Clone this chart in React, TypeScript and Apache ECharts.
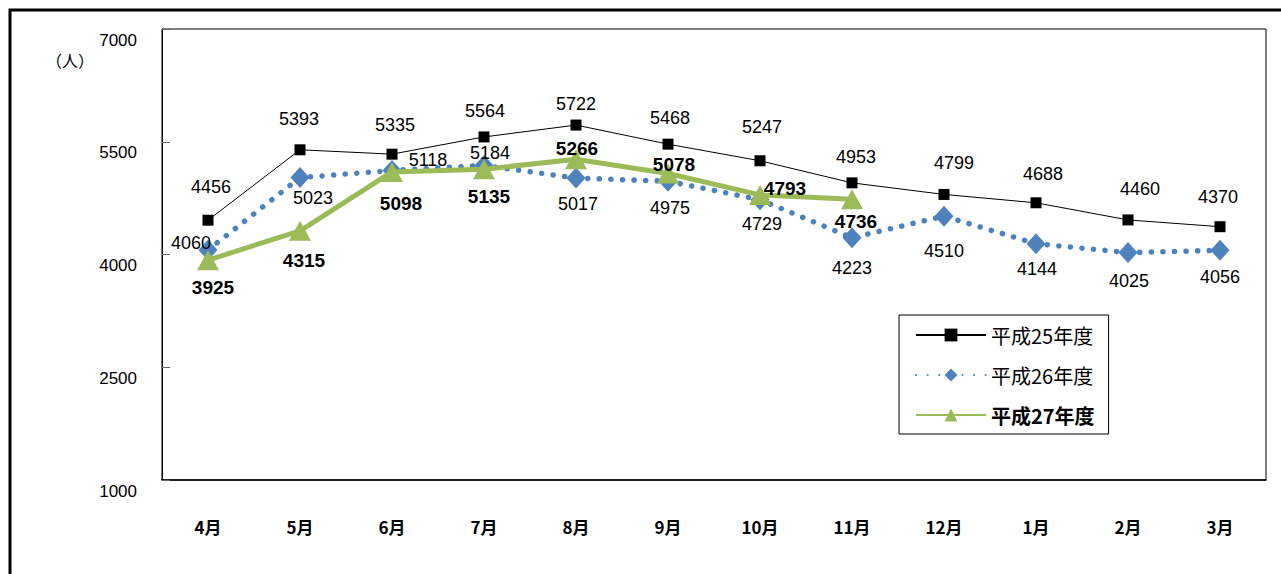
import React, { useEffect, useRef } from "react";
import * as echarts from "echarts";

const months = ["4月", "5月", "6月", "7月", "8月", "9月", "10月", "11月", "12月", "1月", "2月", "3月"];
const seriesNames = ["平成25年度", "平成26年度", "平成27年度"];
const h25 = [4456, 5393, 5335, 5564, 5722, 5468, 5247, 4953, 4799, 4688, 4460, 4370];
const h26 = [4060, 5023, 5118, 5184, 5017, 4975, 4729, 4223, 4510, 4144, 4025, 4056];
const h27: (number | null)[] = [3925, 4315, 5098, 5135, 5266, 5078, 4793, 4736, null, null, null, null];
const yMin = 1000;
const yMax = 7000;
const yInterval = 1500;
const unitLabel = "（人）";

// label placement (style only): offset of label centre from the marker centre
const off25 = [[3, -33], [-1, -31], [3, -29], [1, -26], [0, -21], [2, -26], [2, -34], [4, -26], [10, -31], [7, -29], [12, -31], [-2, -30]];
const off26 = [[-17, -7], [13, 20], [36, -10], [6, -13], [2, 26], [2, 27], [2, 24], [0, 30], [0, 35], [1, 25], [1, 28], [0, 27]];
const off27 = [[5, 27], [4, 30], [9, 32], [5, 27], [1, -11], [6, -9], [25, -6], [4, 22], [0, 0], [0, 0], [0, 0], [0, 0]];

const numFont = '"Liberation Sans", "Noto Sans CJK JP", sans-serif';
const cjkFont = '"Noto Sans CJK JP", "Liberation Sans", sans-serif';

function build(values: (number | null)[], offs: number[][]) {
  return values.map((v, i) =>
    v == null ? "-" : { value: v, label: { offset: offs[i] } }
  );
}

export default function App() {
  const ref = useRef<HTMLDivElement>(null);
  useEffect(() => {
    if (!ref.current) return;
    const chart = echarts.init(ref.current, null, { renderer: "svg" });
    chart.setOption({
      animation: false,
      backgroundColor: "#fff",
      grid: {
        left: 162,
        top: 29,
        right: 15,
        bottom: 94,
        show: true,
        borderColor: "#000",
        borderWidth: 1,
        containLabel: false,
      },
      legend: {
        orient: "vertical",
        left: 899,
        top: 315,
        padding: [10, 14, 9, 16],
        itemWidth: 70,
        itemHeight: 16,
        itemGap: 20,
        borderColor: "#000",
        borderWidth: 1,
        backgroundColor: "#fff",
        textStyle: { fontSize: 20, lineHeight: 20, color: "#000", fontFamily: cjkFont },
        data: [
          { name: seriesNames[0] },
          { name: seriesNames[1] },
          { name: seriesNames[2], textStyle: { fontWeight: "bold" } },
        ],
      },
      graphic: [
        {
          type: "rect",
          shape: { x: 10, y: 10, width: 1300, height: 620 },
          style: { fill: "none", stroke: "#000", lineWidth: 3 },
          silent: true,
        },
        {
          type: "text",
          left: 46,
          top: 52,
          style: { text: unitLabel, fontSize: 16, fill: "#000", fontFamily: cjkFont },
        },
      ],
      xAxis: {
        type: "category",
        data: months,
        boundaryGap: true,
        axisLine: { lineStyle: { color: "#000", width: 1.5 } },
        axisTick: { inside: true, length: 8, lineStyle: { color: "#000" } },
        axisLabel: { margin: 38, fontSize: 17, color: "#000", fontFamily: cjkFont, fontWeight: "bold" },
        splitLine: { show: false },
      },
      yAxis: {
        type: "value",
        min: yMin,
        max: yMax,
        interval: yInterval,
        axisLine: { show: true, lineStyle: { color: "#000", width: 1 } },
        axisTick: { show: true, inside: true, length: 8, lineStyle: { color: "#666" } },
        axisLabel: {
          margin: 25,
          fontSize: 17,
          color: "#000",
          fontFamily: numFont,
          verticalAlign: "top",
          lineHeight: 22,
          formatter: (v: number) => String(v),
        },
        splitLine: { show: false },
      },
      series: [
        {
          name: seriesNames[0],
          type: "line",
          data: build(h25, off25),
          symbol: "rect",
          symbolSize: 11,
          itemStyle: { color: "#000" },
          lineStyle: { color: "#000", width: 1 },
          label: { show: true, position: "inside", fontSize: 18, color: "#000", fontFamily: numFont },
          z: 2,
        },
        {
          name: seriesNames[1],
          type: "line",
          data: build(h26, off26),
          symbol: "diamond",
          symbolSize: [19, 21],
          itemStyle: { color: "#4f81bd" },
          lineStyle: { color: "#4f81bd", width: 5.5, type: [0.1, 11.5], cap: "round" },
          label: { show: true, position: "inside", fontSize: 18, color: "#000", fontFamily: numFont },
          z: 3,
        },
        {
          name: seriesNames[2],
          type: "line",
          data: build(h27, off27),
          symbol: "triangle",
          symbolSize: [22, 20],
          itemStyle: { color: "#9bbb59" },
          lineStyle: { color: "#9bbb59", width: 5 },
          label: { show: true, position: "inside", fontSize: 19, fontWeight: "bold", color: "#000", fontFamily: numFont },
          z: 4,
        },
      ],
    });
    return () => chart.dispose();
  }, []);
  return (
    <div
      ref={ref}
      style={{ position: "fixed", left: 0, top: 0, width: 1281, height: 574, background: "#fff" }}
    />
  );
}
